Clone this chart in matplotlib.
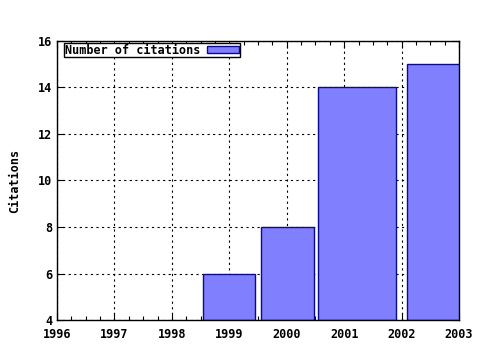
import matplotlib
matplotlib.use("Agg")
import matplotlib.pyplot as plt
from matplotlib.ticker import MultipleLocator

# data (gnuplot-style boxes, uneven widths)
bar_left = [1998.54, 1999.55, 2000.54, 2002.09]
bar_width = [0.91, 0.92, 1.36, 1.30]
citations = [6, 8, 14, 15]
years = list(range(1996, 2004))
yticks = list(range(4, 17, 2))

plt.rcParams.update({
    "font.family": ["DejaVu Sans Mono"],
    "font.weight": "bold",
    "font.size": 8.5,
})

fig = plt.figure(figsize=(4.8, 3.5), dpi=100)
ax = fig.add_axes([0.11875, 0.0857, 0.8375, 0.7972])

ax.bar(bar_left, [c - 4 for c in citations], width=bar_width, bottom=4,
       align="edge", color="#8080ff", edgecolor="#0a0a90", linewidth=1.0,
       label="Number of citations", zorder=3)

ax.set_xlim(1996, 2003)
ax.set_ylim(4, 16)
ax.set_xticks(years)
ax.set_yticks(yticks)
ax.xaxis.set_minor_locator(MultipleLocator(0.25))
ax.tick_params(which="both", direction="in", top=True, right=True,
               labelsize=8.5)
ax.tick_params(which="major", length=5, width=0.8)
ax.tick_params(which="minor", length=3, width=0.8)
ax.tick_params(axis="x", pad=6)
for lab in ax.get_xticklabels() + ax.get_yticklabels():
    lab.set_fontweight("bold")

ax.grid(True, which="major", color="black", linestyle=(0, (2, 3)),
        linewidth=0.8, zorder=1)
for s in ax.spines.values():
    s.set_linewidth(1.0)
    s.set_zorder(4)

ax.set_ylabel("Citations", fontweight="bold", labelpad=12)

leg = ax.legend(loc="upper left", bbox_to_anchor=(0.0174, 0.993),
                borderaxespad=0, markerfirst=False, fancybox=False,
                framealpha=1, edgecolor="black", handlelength=2.7,
                handleheight=0.5, borderpad=0.05,
                handletextpad=0.6, prop={"weight": "bold", "size": 8.5})
leg.get_frame().set_linewidth(1.0)

fig.savefig("out.png", dpi=100)
